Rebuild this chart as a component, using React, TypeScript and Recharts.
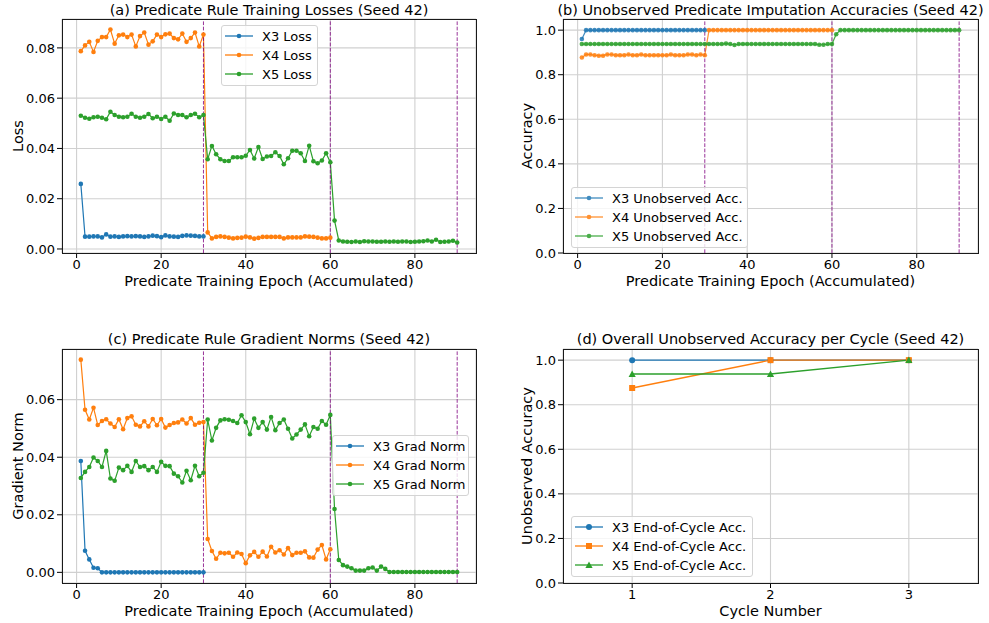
import React from 'react';
import { LineChart, Line, XAxis, YAxis, CartesianGrid, ReferenceLine } from 'recharts';

const FONT = '"DejaVu Sans", Verdana, sans-serif';
const BLUE = '#1f77b4';
const ORANGE = '#ff7f0e';
const GREEN = '#2ca02c';
const PURPLE = '#800080';
const GRID = '#d0d0d0';

// epochs are accumulated over the three training cycles
const epochs = Array.from({ length: 90 }, (_, i) => i + 1);
const epochTicks = [0, 20, 40, 60, 80];
const cycleBoundaries = [30, 60, 90];

const lossTicks = [0, 0.02, 0.04, 0.06, 0.08];
const gradTicks = [0, 0.02, 0.04, 0.06];
const accTicks = [0, 0.2, 0.4, 0.6, 0.8, 1.0];

const lossX3 = [
  0.0259, 0.0049, 0.0049, 0.005, 0.005, 0.0046, 0.0058, 0.0049, 0.005, 0.0048,
  0.005, 0.0051, 0.005, 0.0051, 0.005, 0.0048, 0.005, 0.0053, 0.0051, 0.0047,
  0.0054, 0.005, 0.0049, 0.0048, 0.0052, 0.0054, 0.0053, 0.0052, 0.005, 0.005,
];
const lossX4 = [
  0.0787, 0.081, 0.0824, 0.0784, 0.0828, 0.0843, 0.0843, 0.0873, 0.0817, 0.085,
  0.0853, 0.0843, 0.0853, 0.0806, 0.0847, 0.0861, 0.0813, 0.0826, 0.0853, 0.0843,
  0.0854, 0.0857, 0.0839, 0.0834, 0.0857, 0.0824, 0.0839, 0.0861, 0.0806, 0.0853,
  0.0066, 0.0042, 0.0048, 0.005, 0.0048, 0.0045, 0.0042, 0.0044, 0.0045, 0.0049,
  0.0046, 0.0041, 0.0044, 0.0048, 0.0048, 0.0048, 0.0048, 0.0048, 0.0042, 0.0046,
  0.0046, 0.0046, 0.0046, 0.005, 0.0049, 0.0048, 0.0045, 0.0042, 0.0042, 0.0045,
];
const lossX5 = [
  0.053, 0.0522, 0.0518, 0.0524, 0.0526, 0.0522, 0.0516, 0.0546, 0.0533, 0.0526,
  0.0524, 0.0526, 0.0538, 0.0526, 0.0522, 0.0526, 0.0537, 0.052, 0.0526, 0.0517,
  0.0526, 0.051, 0.0539, 0.0533, 0.0533, 0.0524, 0.0533, 0.0538, 0.0524, 0.0533,
  0.0357, 0.041, 0.0377, 0.0357, 0.035, 0.035, 0.0365, 0.0365, 0.0365, 0.0371,
  0.0394, 0.036, 0.0406, 0.0358, 0.0368, 0.037, 0.0385, 0.037, 0.0337, 0.0361,
  0.0391, 0.0391, 0.0381, 0.035, 0.0411, 0.0349, 0.0341, 0.0352, 0.0381, 0.0345,
  0.0113, 0.0034, 0.003, 0.0029, 0.0028, 0.003, 0.0028, 0.0031, 0.003, 0.003,
  0.0029, 0.0029, 0.003, 0.0029, 0.003, 0.0029, 0.003, 0.003, 0.0028, 0.0029,
  0.003, 0.0031, 0.0034, 0.003, 0.0037, 0.0028, 0.0029, 0.003, 0.0033, 0.0026,
];

const accX3 = [
  0.96, 1, 1, 1, 1, 1, 1, 1, 1, 1,
  1, 1, 1, 1, 1, 1, 1, 1, 1, 1,
  1, 1, 1, 1, 1, 1, 1, 1, 1, 1,
];
const accX4 = [
  0.8771, 0.8906, 0.8906, 0.8875, 0.8854, 0.8854, 0.8906, 0.8906, 0.8875, 0.8875,
  0.8875, 0.8906, 0.8875, 0.8875, 0.8906, 0.8875, 0.8875, 0.8875, 0.8875, 0.8875,
  0.8875, 0.8906, 0.8875, 0.8875, 0.8875, 0.8906, 0.8906, 0.8875, 0.8906, 0.8875,
  1, 1, 1, 1, 1, 1, 1, 1, 1, 1,
  1, 1, 1, 1, 1, 1, 1, 1, 1, 1,
  1, 1, 1, 1, 1, 1, 1, 1, 1, 1,
];
const accX5 = [
  0.9375, 0.9375, 0.9375, 0.9375, 0.9375, 0.9375, 0.9375, 0.9375, 0.9375, 0.9375,
  0.9375, 0.9375, 0.9375, 0.9375, 0.9375, 0.9375, 0.9375, 0.9375, 0.9375, 0.9375,
  0.9375, 0.9375, 0.9375, 0.9375, 0.9375, 0.9375, 0.9375, 0.9375, 0.9375, 0.9375,
  0.9375, 0.9375, 0.9375, 0.9375, 0.9396, 0.9375, 0.9333, 0.9375, 0.9375, 0.9375,
  0.9375, 0.9375, 0.9375, 0.9375, 0.9375, 0.9375, 0.9375, 0.9375, 0.9375, 0.9375,
  0.9375, 0.9375, 0.9375, 0.9375, 0.9375, 0.9375, 0.9344, 0.9344, 0.9375, 0.9375,
  0.9818, 1, 1, 1, 1, 1, 1, 1, 1, 1,
  1, 1, 1, 1, 1, 1, 1, 1, 1, 1,
  1, 1, 1, 1, 1, 1, 1, 1, 1, 1,
];

const gradX3 = [
  0.0387, 0.0075, 0.0045, 0.0016, 0.0014, 0, 0, 0, 0, 0,
  0, 0, 0, 0, 0, 0, 0, 0, 0, 0,
  0, 0, 0, 0, 0, 0, 0, 0, 0, 0,
];
const gradX4 = [
  0.0739, 0.0565, 0.0531, 0.0572, 0.0512, 0.0526, 0.0532, 0.0517, 0.0505, 0.0532,
  0.0497, 0.0536, 0.0542, 0.0513, 0.0507, 0.0525, 0.0507, 0.0533, 0.0511, 0.0533,
  0.0503, 0.0512, 0.0519, 0.0521, 0.0531, 0.0517, 0.0536, 0.0513, 0.052, 0.0522,
  0.0116, 0.0074, 0.0047, 0.0068, 0.0066, 0.0068, 0.0054, 0.0069, 0.0064, 0.0032,
  0.0059, 0.0071, 0.0054, 0.0072, 0.0055, 0.0089, 0.0069, 0.0077, 0.0062, 0.0084,
  0.006, 0.0068, 0.0068, 0.0073, 0.0052, 0.0051, 0.0079, 0.0095, 0.0045, 0.008,
];
const gradX5 = [
  0.0328, 0.0349, 0.0366, 0.0399, 0.0387, 0.0366, 0.0422, 0.0326, 0.0318, 0.0364,
  0.0355, 0.037, 0.0349, 0.0387, 0.0366, 0.0369, 0.0355, 0.0366, 0.0349, 0.0384,
  0.037, 0.0369, 0.0343, 0.0334, 0.0312, 0.0353, 0.032, 0.037, 0.0334, 0.0346,
  0.0531, 0.0458, 0.0502, 0.0528, 0.0532, 0.053, 0.0526, 0.0519, 0.0546, 0.0522,
  0.048, 0.0534, 0.0502, 0.0522, 0.0496, 0.054, 0.0494, 0.0519, 0.0531, 0.0499,
  0.0465, 0.0479, 0.0496, 0.0514, 0.0473, 0.0505, 0.0499, 0.0526, 0.0513, 0.0547,
  0.022, 0.0043, 0.0025, 0.002, 0.0014, 0.0006, 0.0006, 0.0006, 0.0014, 0.0017,
  0.0006, 0.002, 0.0012, 0.0001, 0.0001, 0.0001, 0.0001, 0.0001, 0.0001, 0.0001,
  0.0001, 0.0001, 0.0001, 0.0001, 0.0001, 0.0001, 0.0001, 0.0001, 0.0001, 0.0001,
];

const cycles = [1, 2, 3];
const cycleAccX3 = [1.0, 1.0, 1.0];
const cycleAccX4 = [0.875, 1.0, 1.0];
const cycleAccX5 = [0.9375, 0.9375, 1.0];

const byEpoch = (a: number[], b: number[], c: number[]) =>
  epochs.map((epoch, i) => ({ epoch, x3: a[i], x4: b[i], x5: c[i] }));

const lossData = byEpoch(lossX3, lossX4, lossX5);
const accData = byEpoch(accX3, accX4, accX5);
const gradData = byEpoch(gradX3, gradX4, gradX5);
const cycleData = cycles.map((cycle, i) => ({
  cycle,
  x3: cycleAccX3[i],
  x4: cycleAccX4[i],
  x5: cycleAccX5[i],
}));

type Box = { left: number; top: number; width: number; height: number };

const boxA: Box = { left: 62, top: 19, width: 414, height: 234 };
const boxB: Box = { left: 563, top: 19, width: 415, height: 234 };
const boxC: Box = { left: 62, top: 349, width: 414, height: 234 };
const boxD: Box = { left: 563, top: 349, width: 415, height: 234 };

const YW = 70;
const XH = 40;
const MT = 10;
const MR = 10;

const axisProps = {
  axisLine: false,
  tickLine: { stroke: '#000', strokeWidth: 1 },
  tickSize: 5,
  tickMargin: 2,
  interval: 0 as const,
  tick: { fill: '#000', fontSize: 13, fontFamily: FONT },
};

function marker(shape: string, cx: number, cy: number, color: string, size: number, key?: any) {
  if (cx == null || cy == null || isNaN(cx) || isNaN(cy)) return <g key={key} />;
  if (shape === 'square') {
    return <rect key={key} x={cx - size} y={cy - size} width={size * 2} height={size * 2} fill={color} />;
  }
  if (shape === 'triangle') {
    const s = size * 1.2;
    return (
      <polygon
        key={key}
        points={`${cx},${cy - s} ${cx - s},${cy + s * 0.8} ${cx + s},${cy + s * 0.8}`}
        fill={color}
      />
    );
  }
  return <circle key={key} cx={cx} cy={cy} r={size} fill={color} />;
}

type Series = { key: string; color: string; label: string; shape: string };

const lossSeries: Series[] = [
  { key: 'x3', color: BLUE, label: 'X3 Loss', shape: 'circle' },
  { key: 'x4', color: ORANGE, label: 'X4 Loss', shape: 'circle' },
  { key: 'x5', color: GREEN, label: 'X5 Loss', shape: 'circle' },
];
const accSeries: Series[] = [
  { key: 'x3', color: BLUE, label: 'X3 Unobserved Acc.', shape: 'circle' },
  { key: 'x4', color: ORANGE, label: 'X4 Unobserved Acc.', shape: 'circle' },
  { key: 'x5', color: GREEN, label: 'X5 Unobserved Acc.', shape: 'circle' },
];
const gradSeries: Series[] = [
  { key: 'x3', color: BLUE, label: 'X3 Grad Norm', shape: 'circle' },
  { key: 'x4', color: ORANGE, label: 'X4 Grad Norm', shape: 'circle' },
  { key: 'x5', color: GREEN, label: 'X5 Grad Norm', shape: 'circle' },
];
const cycleSeries: Series[] = [
  { key: 'x3', color: BLUE, label: 'X3 End-of-Cycle Acc.', shape: 'circle' },
  { key: 'x4', color: ORANGE, label: 'X4 End-of-Cycle Acc.', shape: 'square' },
  { key: 'x5', color: GREEN, label: 'X5 End-of-Cycle Acc.', shape: 'triangle' },
];

function EpochPanel({ box, data, yDomain, yTicks, digits, series, opacity = 1 }: any) {
  return (
    <div style={{ position: 'absolute', left: box.left - YW, top: box.top - MT }}>
      <LineChart
        width={box.width + YW + MR}
        height={box.height + MT + XH}
        data={data}
        margin={{ top: MT, right: MR, bottom: 0, left: 0 }}
      >
        <CartesianGrid stroke={GRID} strokeWidth={1.1} />
        <XAxis
          type="number"
          dataKey="epoch"
          domain={[-3.45, 94.45]}
          allowDataOverflow
          ticks={epochTicks}
          height={XH}
          {...axisProps}
        />
        <YAxis
          type="number"
          domain={yDomain}
          allowDataOverflow
          ticks={yTicks}
          tickFormatter={(v: number) => v.toFixed(digits)}
          width={YW}
          {...axisProps}
        />
        {series.map((s: Series) => (
          <Line
            key={s.key}
            type="linear"
            dataKey={s.key}
            stroke={s.color}
            strokeOpacity={opacity}
            strokeWidth={1.2}
            dot={{ r: 2.3, fill: s.color, stroke: 'none', fillOpacity: opacity }}
            activeDot={false}
            isAnimationActive={false}
          />
        ))}
        {cycleBoundaries.map((x) => (
          <ReferenceLine
            key={x}
            x={x}
            stroke={PURPLE}
            strokeOpacity={0.8}
            strokeWidth={1}
            strokeDasharray="3.7 1.6"
          />
        ))}
      </LineChart>
    </div>
  );
}

function CyclePanel({ box }: { box: Box }) {
  return (
    <div style={{ position: 'absolute', left: box.left - YW, top: box.top - MT }}>
      <LineChart
        width={box.width + YW + MR}
        height={box.height + MT + XH}
        data={cycleData}
        margin={{ top: MT, right: MR, bottom: 0, left: 0 }}
      >
        <CartesianGrid stroke={GRID} strokeWidth={1.1} />
        <XAxis
          type="number"
          dataKey="cycle"
          domain={[0.5, 3.5]}
          allowDataOverflow
          ticks={cycles}
          height={XH}
          {...axisProps}
        />
        <YAxis
          type="number"
          domain={[0, 1.05]}
          allowDataOverflow
          ticks={accTicks}
          tickFormatter={(v: number) => v.toFixed(1)}
          width={YW}
          {...axisProps}
        />
        {cycleSeries.map((s) => (
          <Line
            key={s.key}
            type="linear"
            dataKey={s.key}
            stroke={s.color}
            strokeWidth={1.4}
            dot={(p: any) => marker(s.shape, p.cx, p.cy, s.color, 3, `${s.key}-${p.index}`)}
            activeDot={false}
            isAnimationActive={false}
          />
        ))}
      </LineChart>
    </div>
  );
}

function Frame({ box }: { box: Box }) {
  return (
    <div
      style={{
        position: 'absolute',
        left: box.left - 0.5,
        top: box.top - 0.5,
        width: box.width + 1,
        height: box.height + 1,
        border: '1px solid #1a1a1a',
        boxSizing: 'border-box',
        pointerEvents: 'none',
      }}
    />
  );
}

function Txt({ x, y, size = 14.5, rotate = false, children }: any) {
  return (
    <div
      style={{
        position: 'absolute',
        left: x,
        top: y,
        transform: `translate(-50%, -50%)${rotate ? ' rotate(-90deg)' : ''}`,
        fontFamily: FONT,
        fontSize: size,
        lineHeight: 1.15,
        whiteSpace: 'nowrap',
        color: '#000',
      }}
    >
      {children}
    </div>
  );
}

function LegendBox({ left, top, width, series, opacity = 1, markerSize = 2.3 }: any) {
  return (
    <div
      style={{
        position: 'absolute',
        left,
        top,
        width,
        height: 61,
        border: '1px solid #d4d4d4',
        borderRadius: 3,
        background: 'rgba(255,255,255,0.8)',
        boxSizing: 'border-box',
      }}
    >
      {series.map((s: Series, i: number) => (
        <div
          key={s.key}
          style={{
            position: 'absolute',
            left: 0,
            top: 10 + 19 * i - 8,
            height: 16,
            display: 'flex',
            alignItems: 'center',
          }}
        >
          <svg width={36} height={16} style={{ display: 'block', opacity }}>
            <line x1={3} x2={31} y1={8} y2={8} stroke={s.color} strokeWidth={1.3} />
            {marker(s.shape, 17, 8, s.color, markerSize)}
          </svg>
          <span style={{ marginLeft: 4, fontSize: 13, fontFamily: FONT, whiteSpace: 'nowrap', color: '#000' }}>
            {s.label}
          </span>
        </div>
      ))}
    </div>
  );
}

export default function App() {
  const cx = (b: Box) => b.left + b.width / 2;
  return (
    <div
      style={{
        position: 'absolute',
        left: 0,
        top: 0,
        width: 989,
        height: 623,
        background: '#fff',
        overflow: 'hidden',
      }}
    >
      <EpochPanel box={boxA} data={lossData} yDomain={[-0.0016, 0.0915]} yTicks={lossTicks} digits={2} series={lossSeries} />
      <EpochPanel box={boxB} data={accData} yDomain={[0, 1.05]} yTicks={accTicks} digits={1} series={accSeries} opacity={0.85} />
      <EpochPanel box={boxC} data={gradData} yDomain={[-0.0037, 0.0776]} yTicks={gradTicks} digits={2} series={gradSeries} />
      <CyclePanel box={boxD} />

      <Frame box={boxA} />
      <Frame box={boxB} />
      <Frame box={boxC} />
      <Frame box={boxD} />

      <Txt x={cx(boxA)} y={10}>(a) Predicate Rule Training Losses (Seed 42)</Txt>
      <Txt x={cx(boxB)} y={10}>(b) Unobserved Predicate Imputation Accuracies (Seed 42)</Txt>
      <Txt x={cx(boxC)} y={339}>(c) Predicate Rule Gradient Norms (Seed 42)</Txt>
      <Txt x={cx(boxD)} y={339}>(d) Overall Unobserved Accuracy per Cycle (Seed 42)</Txt>

      <Txt x={cx(boxA)} y={281}>Predicate Training Epoch (Accumulated)</Txt>
      <Txt x={cx(boxB)} y={281}>Predicate Training Epoch (Accumulated)</Txt>
      <Txt x={cx(boxC)} y={611}>Predicate Training Epoch (Accumulated)</Txt>
      <Txt x={cx(boxD)} y={611}>Cycle Number</Txt>

      <Txt x={18} y={136} rotate>Loss</Txt>
      <Txt x={527} y={136} rotate>Accuracy</Txt>
      <Txt x={18} y={466} rotate>Gradient Norm</Txt>
      <Txt x={527} y={466} rotate>Unobserved Accuracy</Txt>

      <LegendBox left={221} top={25} width={97} series={lossSeries} />
      <LegendBox left={571} top={187} width={177} series={accSeries} opacity={0.85} />
      <LegendBox left={332} top={435} width={137} series={gradSeries} />
      <LegendBox left={571} top={516} width={182} series={cycleSeries} markerSize={3} />
    </div>
  );
}
